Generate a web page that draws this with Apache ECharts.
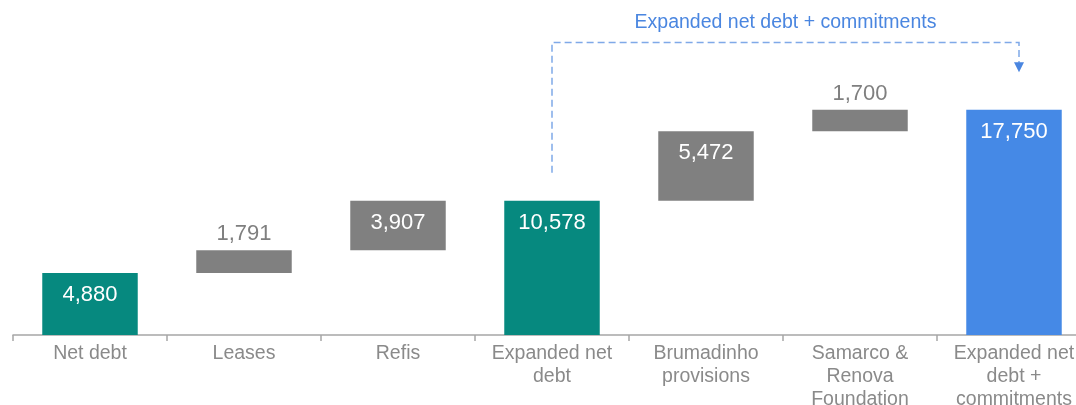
<!DOCTYPE html>
<html>
<head>
<meta charset="utf-8">
<script src="https://cdn.jsdelivr.net/npm/echarts@6/dist/echarts.min.js"></script>
<style>
html,body{margin:0;padding:0;background:#fff;}
#chart{width:1076px;height:405px;}
</style>
</head>
<body>
<div id="chart"></div>
<script>
// ---- data ----
const categories = ['Net debt', 'Leases', 'Refis', 'Expanded net\ndebt', 'Brumadinho\nprovisions', 'Samarco &\nRenova\nFoundation', 'Expanded net\ndebt +\ncommitments'];
const values = [4880, 1791, 3907, 10578, 5472, 1700, 17750];
const kinds = ['total', 'delta', 'delta', 'total', 'delta', 'delta', 'total'];
const bracketTitle = 'Expanded net debt + commitments';
const bracketFrom = 3;
const bracketTo = 6;

// ---- styling ----
const FONT = '"Liberation Sans", Arial, sans-serif';
const TEAL = '#06897f';
const BLUE = '#4589e6';
const GRAY = '#808080';

// waterfall bases from running sum
const bases = [];
let run = 0;
values.forEach((v, i) => {
  if (kinds[i] === 'total') { bases.push(0); run = v; }
  else { bases.push(run); run += v; }
});

const chart = echarts.init(document.getElementById('chart'), null, {renderer: 'canvas'});

const barData = values.map((v, i) => {
  const isTotal = kinds[i] === 'total';
  const color = isTotal ? (i === values.length - 1 ? BLUE : TEAL) : GRAY;
  const thin = v < 2500;
  return {
    value: v,
    itemStyle: {color: color},
    label: thin ? {position: 'top', color: '#7f7f7f', distance: 5}
                : {position: 'insideTop', color: '#ffffff', distance: 11}
  };
});

chart.setOption({
  animation: false,
  grid: {left: 13, top: 5, width: 1078, height: 330, outerBoundsMode: 'none', containLabel: false},
  xAxis: {
    type: 'category',
    data: categories,
    axisLine: {lineStyle: {color: '#a6a6a6', width: 1.5}},
    axisTick: {show: true, length: 6, lineStyle: {color: '#a6a6a6', width: 1.5}},
    axisLabel: {interval: 0, fontSize: 19.5, color: '#8a8a8a', fontFamily: FONT, lineHeight: 23, margin: 7}
  },
  yAxis: {type: 'value', min: 0, max: 26000, show: false, splitLine: {show: false}},
  series: [
    {type: 'bar', stack: 'w', data: bases, itemStyle: {color: 'transparent'}, silent: true, barWidth: '62%'},
    {
      type: 'bar', stack: 'w', data: barData, barWidth: '62%',
      label: {
        show: true, fontSize: 22, fontFamily: FONT,
        formatter: p => p.value.toLocaleString('en-US')
      }
    }
  ]
});

// bracket annotation computed from axis scales
const px = (c, v) => chart.convertToPixel({xAxisIndex: 0, yAxisIndex: 0}, [c, v]);
const x1 = px(bracketFrom, 0)[0];
const x2 = px(bracketTo, 0)[0] + 5;
const yStart = px(0, values[bracketFrom] + 2200)[1];
const yTop = px(0, 23050)[1];
const yArrow = px(0, values[bracketTo] + 2950)[1];
const yText = px(0, 24650)[1];
const dash = {stroke: '#7fa9e8', lineWidth: 1.5, lineDash: [7, 4]};

chart.setOption({
  graphic: [
    {type: 'polyline', shape: {points: [[x1, yStart], [x1, yTop], [x2, yTop], [x2, yArrow - 8]]}, style: Object.assign({fill: null}, dash), silent: true},
    {type: 'polygon', shape: {points: [[x2 - 5, yArrow - 10], [x2 + 5, yArrow - 10], [x2, yArrow]]}, style: {fill: '#4a86e0'}, silent: true},
    {type: 'text', x: (x1 + x2) / 2, y: yText, style: {text: bracketTitle, fill: '#4a86e0', font: '19.5px ' + FONT, align: 'center', verticalAlign: 'middle'}, silent: true}
  ]
});
</script>
</body>
</html>
